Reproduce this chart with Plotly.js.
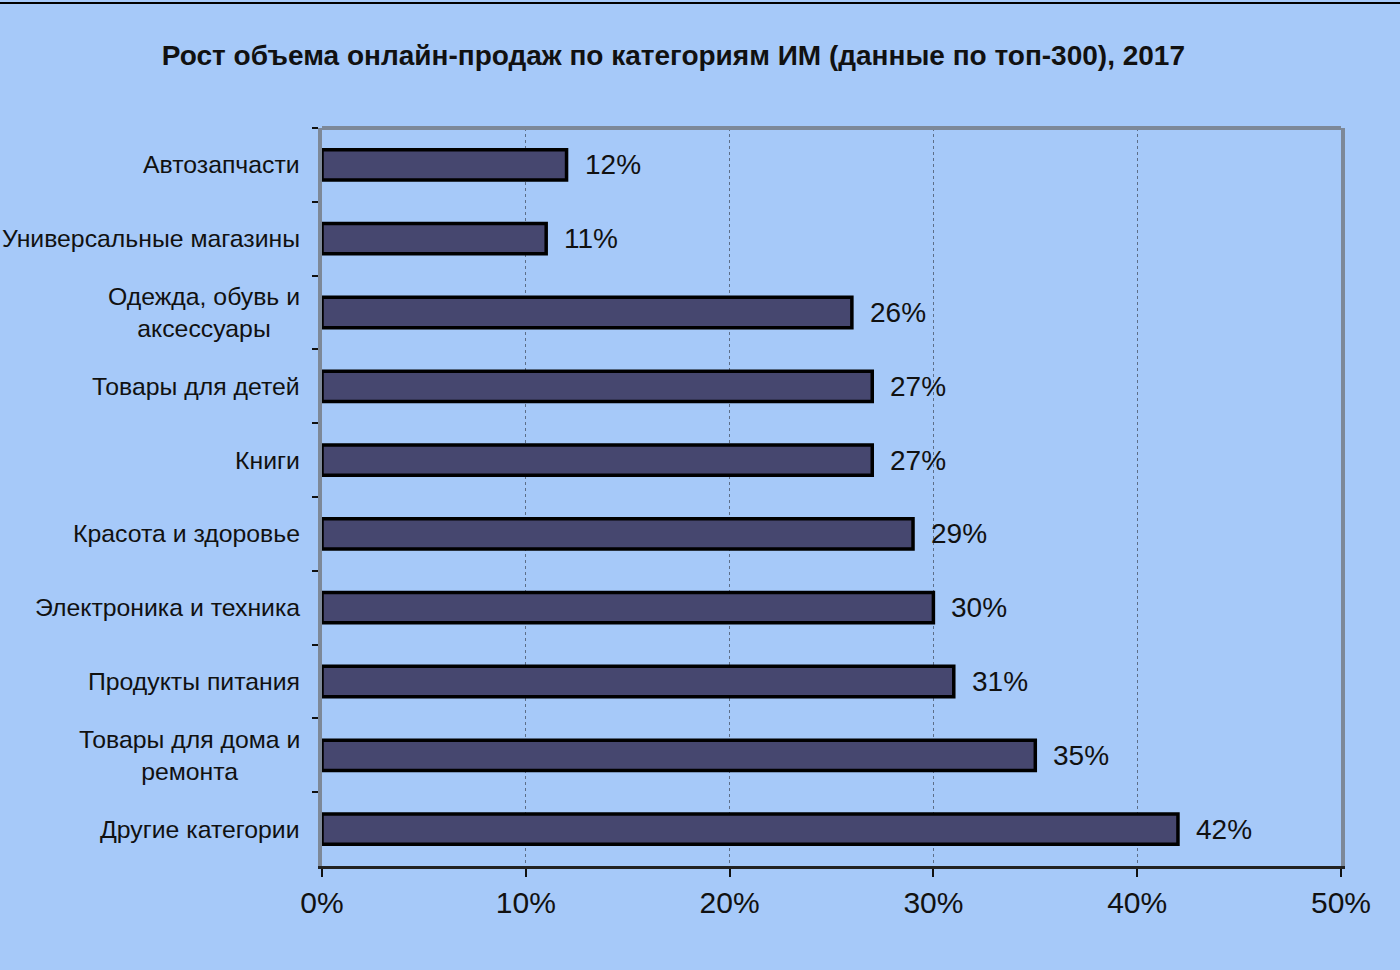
<!DOCTYPE html>
<html>
<head>
<meta charset="utf-8">
<script src="https://cdn.plot.ly/plotly-3.0.1.min.js"></script>
<style>
  body { margin: 0; background: #a6c9f9; }
  #chart { width: 1400px; height: 970px; }
</style>
</head>
<body>
<div id="chart"></div>
<script>
var categories = [
    "Автозапчасти",
    "Универсальные магазины",
    "Одежда, обувь и<br>аксессуары",
    "Товары для детей",
    "Книги",
    "Красота и здоровье",
    "Электроника и техника",
    "Продукты питания",
    "Товары для дома и<br>ремонта",
    "Другие категории"
];
var growth = [0.12, 0.11, 0.26, 0.27, 0.27, 0.29, 0.30, 0.31, 0.35, 0.42];
var xTicks = [0, 0.1, 0.2, 0.3, 0.4, 0.5];
var xTickLabels = ["0%", "10%", "20%", "30%", "40%", "50%"];

var bg = "#a6c9f9";
var font = "Liberation Sans, Arial, sans-serif";

var trace = {
    type: "bar",
    orientation: "h",
    x: growth,
    y: categories,
    marker: {color: "#46476f", line: {color: "#000000", width: 3.5}},
    width: 0.41,
    hoverinfo: "none"
};

// category labels, centred line by line like the original
var labelNotes = categories.map(function (c) {
    return {
        xref: "paper", yref: "y",
        x: 0, y: c,
        xanchor: "right", yanchor: "middle",
        xshift: -20,
        align: "center",
        text: c,
        showarrow: false,
        font: {family: font, size: 24.8, color: "#111111"}
    };
});

// value labels to the right of each bar
var valueNotes = growth.map(function (v, i) {
    return {
        xref: "x", yref: "y",
        x: v, y: categories[i],
        xanchor: "left", yanchor: "middle",
        xshift: 16,
        text: Math.round(v * 100) + "%",
        showarrow: false,
        font: {family: font, size: 28, color: "#111111"}
    };
});

var layout = {
    width: 1400,
    height: 970,
    paper_bgcolor: bg,
    plot_bgcolor: bg,
    margin: {l: 322, r: 59, t: 128, b: 104, pad: 0},
    showlegend: false,
    title: {
        text: "<b>Рост объема онлайн-продаж по категориям ИМ (данные по топ-300), 2017</b>",
        font: {family: font, size: 28, color: "#111111"},
        xref: "container", yref: "container",
        x: 0.481, y: 0.943,
        xanchor: "center", yanchor: "middle"
    },
    xaxis: {
        range: [0, 0.5],
        tickvals: xTicks,
        ticktext: xTickLabels,
        ticks: "outside",
        ticklen: 8,
        tickwidth: 2,
        tickcolor: "#111111",
        showline: true,
        linecolor: "#222222",
        linewidth: 3,
        showgrid: true,
        gridcolor: "#5d6e88",
        gridwidth: 1,
        griddash: "dot",
        zeroline: false,
        tickfont: {family: font, size: 30, color: "#111111"}
    },
    yaxis: {
        type: "category",
        autorange: "reversed",
        showticklabels: false,
        ticks: "outside",
        tickson: "boundaries",
        ticklen: 6,
        tickwidth: 2,
        tickcolor: "#111111",
        showline: true,
        mirror: true,
        linecolor: "#7d8898",
        linewidth: 4,
        showgrid: false,
        zeroline: false
    },
    bargap: 0.59,
    annotations: labelNotes.concat(valueNotes),
    shapes: [
        {type: "line", xref: "paper", yref: "paper", x0: 0, x1: 1, y0: 1, y1: 1,
         line: {color: "#7d8898", width: 4}},
        {type: "line", xref: "paper", yref: "paper", x0: -0.32, x1: 1.06, y0: 1.1694, y1: 1.1694,
         line: {color: "#000000", width: 2}}
    ]
};

Plotly.newPlot("chart", [trace], layout, {displayModeBar: false, staticPlot: true});
</script>
</body>
</html>
